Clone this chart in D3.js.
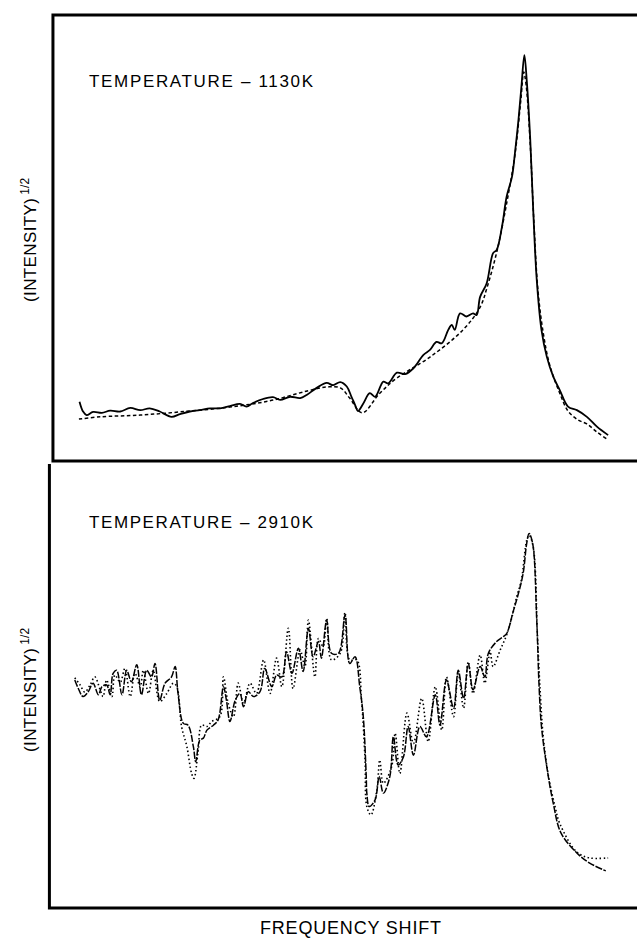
<!DOCTYPE html>
<html><head><meta charset="utf-8">
<script src="https://cdn.jsdelivr.net/npm/d3@7"></script>
<style>html,body{margin:0;padding:0;background:#fff;}svg{display:block;}</style>
</head><body>
<script>
// Frequency shift (arbitrary units 0-100), (intensity)^1/2 (arbitrary units 0-100)
const top_meas_x = [5.0,5.6,6.2,7.3,8.8,10.2,11.9,13.6,15.3,16.9,18.6,20.6,22.0,23.7,25.4,27.1,28.8,30.5,32.2,33.3,34.4,36.1,37.8,39.0,40.7,42.4,43.5,45.2,46.9,48.0,49.2,50.3,51.1,51.7,52.2,53.1,54.2,55.1,56.5,57.3,58.8,60.2,61.6,63.3,64.4,65.5,66.4,67.5,68.1,68.6,69.5,70.6,71.7,72.3,72.9,74.0,75.1,75.7,76.6,77.4,78.3,78.8,79.4,79.9,80.4,80.8,81.4,81.9,82.5,83.3,84.2,85.3,86.4,87.8,89.3,91.0,92.7,94.6];
const top_meas_y = [13.3,11.1,10.3,11.0,10.8,11.3,11.1,11.9,11.4,11.8,11.1,9.9,10.5,11.1,11.4,11.8,11.8,12.3,12.8,12.2,13.0,13.9,14.3,13.7,14.4,14.1,14.8,16.4,17.5,17.0,17.7,16.7,14.4,12.6,11.2,12.9,15.2,14.4,17.8,17.4,19.8,19.5,20.8,23.8,24.9,26.7,26.4,29.4,30.5,29.4,33.1,32.4,33.1,32.7,36.8,39.8,46.6,47.3,52.5,59.3,63.7,69.0,76.5,83.9,91.0,85.4,72.0,56.3,40.6,29.4,23.4,18.9,15.9,12.2,11.4,9.9,7.7,5.8];
const top_fit_x = [4.9,8.5,15.3,22.0,30.5,37.3,43.6,47.0,49.2,50.8,52.9,55.9,58.8,64.4,70.0,72.9,74.1,75.8,77.5,78.8,79.8,80.3,80.7,81.4,82.0,82.7,83.6,84.7,86.4,87.8,89.5,91.0,92.7,94.4];
const top_fit_y = [9.4,9.9,10.3,11.0,12.1,13.5,15.7,16.6,16.4,14.1,10.8,15.2,18.6,23.3,29.4,34.5,39.0,47.3,58.5,68.6,80.9,87.2,84.3,70.9,54.0,38.3,28.7,21.5,15.2,11.2,9.2,8.3,6.5,4.9];

const bot_a_x = [4.2,4.8,5.6,6.5,7.3,8.2,8.8,9.6,10.2,10.7,11.3,12.2,13.0,13.8,14.7,15.5,16.4,17.2,17.8,18.6,19.5,20.6,21.2,21.7,22.6,23.4,24.3,24.7,25.4,26.0,26.6,27.7,28.5,29.4,29.9,30.5,31.4,32.2,32.8,33.6,34.5,35.6,36.4,37.6,38.4,39.3,40.1,41.0,42.1,42.9,43.8,44.6,45.5,46.0,46.9,47.7,48.9,50.0,50.8,51.7,52.5,53.1,53.6,53.7,54.1,55.1,55.8,56.5,57.6,58.2,59.0,59.9,60.7,61.6,62.7,63.8,65.3,66.1,67.2,68.4,69.2,70.1,70.9,71.7,72.9,73.7,74.3,75.7,76.8,77.4,78.5,79.4,80.2,80.8,81.2,81.8,82.5,82.9,83.3,84.2,85.3,86.6,89.3,91.4,94.2];
const bot_a_y = [51.0,49.1,47.3,48.4,50.3,47.7,49.5,49.9,47.7,52.5,53.2,47.7,53.2,50.6,54.4,47.7,53.2,51.7,54.7,46.5,50.3,51.7,54.0,48.0,41.3,40.9,36.1,32.7,37.6,38.0,39.8,40.9,42.1,49.5,46.5,41.7,46.5,48.0,45.0,48.4,47.3,48.4,53.6,49.5,52.1,51.7,57.3,52.5,58.1,52.9,62.6,56.2,59.6,55.9,64.4,57.0,57.0,65.5,54.7,56.2,49.5,42.8,29.4,25.7,22.7,24.2,29.4,25.7,29.4,38.3,32.0,33.8,40.6,34.2,40.6,38.3,47.7,40.9,51.0,44.7,53.2,46.9,54.7,48.8,54.0,51.7,57.0,59.6,60.7,61.4,66.3,70.4,74.9,81.6,83.8,81.6,64.4,49.5,40.6,31.6,23.4,16.8,12.3,10.1,8.3];
const bot_b_x = [4.2,5.1,5.9,6.8,7.6,8.5,9.0,9.6,10.5,11.0,11.9,12.7,13.6,14.4,15.3,15.8,16.7,17.5,18.6,19.8,20.9,21.5,22.3,23.2,24.0,24.4,25.1,25.7,26.6,27.4,28.8,29.4,30.2,31.1,31.9,32.8,33.9,35.0,36.2,37.3,38.4,39.3,40.4,41.2,42.4,43.2,43.8,44.9,45.5,46.3,46.9,47.7,49.2,50.0,50.8,52.0,52.8,53.4,53.7,54.4,55.4,55.9,56.5,57.9,58.5,59.3,60.5,61.6,63.0,64.1,65.3,66.4,67.2,68.4,69.2,70.1,70.9,71.7,72.9,73.7,74.6,75.1,76.3,77.4,78.3,79.1,79.9,80.8,81.2,81.9,82.6,83.1,83.6,84.5,85.6,86.4,89.3,91.5,94.6];
const bot_b_y = [51.5,49.9,48.3,49.9,51.7,48.8,47.3,51.0,47.3,52.1,50.5,53.6,47.3,52.5,49.5,53.2,48.0,53.2,46.2,48.0,50.3,49.5,40.6,36.1,30.1,29.0,35.0,40.9,40.6,41.7,42.8,51.7,45.8,42.8,50.3,45.8,50.3,48.0,55.5,48.0,55.9,49.5,62.6,49.1,57.7,54.0,64.4,51.7,60.3,58.5,64.8,55.5,57.0,66.1,55.5,55.5,46.5,33.1,22.7,20.8,26.4,33.1,27.9,31.6,39.1,30.1,43.6,36.8,46.9,37.2,49.5,39.8,51.7,42.8,52.5,44.7,55.1,48.0,56.6,50.3,57.3,54.0,57.7,61.1,65.1,69.6,73.4,82.3,83.4,80.8,61.4,48.0,38.3,29.4,22.7,18.9,12.5,11.2,11.2];

const topLabel = "TEMPERATURE \u2013 1130K";
const botLabel = "TEMPERATURE \u2013 2910K";
const yLabelMain = "(INTENSITY)";
const yLabelSup = "1/2";
const xLabel = "FREQUENCY SHIFT";

const W = 637, H = 940;
const svg = d3.select("body").append("svg").attr("width", W).attr("height", H);
svg.append("rect").attr("width", W).attr("height", H).attr("fill", "#fff");

const x = d3.scaleLinear().domain([0, 100]).range([50, 640]);
const yTop = d3.scaleLinear().domain([0, 100]).range([461, 15]);
const yBot = d3.scaleLinear().domain([0, 100]).range([908, 461]);

const zip = (xs, ys) => xs.map((v, i) => [v, ys[i]]);
const lineFor = ys => d3.line().x(d => x(d[0])).y(d => ys(d[1])).curve(d3.curveCatmullRom.alpha(0.5));

// frames
const frame = svg.append("g").attr("stroke", "#000").attr("stroke-width", 3).attr("fill", "none");
frame.append("path").attr("d", `M${W+5},${yTop(100)} H${x(0.5)} V${yTop(0)} H${W+5}`);
frame.append("path").attr("d", `M${x(-0.1)},${yTop(0)+3} V${yBot(0)} H${W+5}`);

// top panel curves
svg.append("path").datum(zip(top_fit_x, top_fit_y)).attr("d", lineFor(yTop))
  .attr("fill", "none").attr("stroke", "#000").attr("stroke-width", 1.5).attr("stroke-dasharray", "3.5,2.5");
svg.append("path").datum(zip(top_meas_x, top_meas_y)).attr("d", lineFor(yTop))
  .attr("fill", "none").attr("stroke", "#000").attr("stroke-width", 1.8).attr("stroke-linejoin", "round");

// bottom panel curves
svg.append("path").datum(zip(bot_b_x, bot_b_y)).attr("d", lineFor(yBot))
  .attr("fill", "none").attr("stroke", "#000").attr("stroke-width", 1.6).attr("stroke-dasharray", "1.5,2.5");
svg.append("path").datum(zip(bot_a_x, bot_a_y)).attr("d", lineFor(yBot))
  .attr("fill", "none").attr("stroke", "#000").attr("stroke-width", 1.5).attr("stroke-dasharray", "7,1.5");

// texts
const font = "'Liberation Sans Narrow', 'Liberation Sans', Arial, sans-serif";
svg.append("text").attr("x", 89).attr("y", 87).attr("font-family", font).attr("font-size", 17)
  .attr("textLength", 224).attr("lengthAdjust", "spacing").text(topLabel);
svg.append("text").attr("x", 89).attr("y", 528).attr("font-family", font).attr("font-size", 17)
  .attr("textLength", 224).attr("lengthAdjust", "spacing").text(botLabel);
svg.append("text").attr("x", 260).attr("y", 934).attr("font-family", font).attr("font-size", 18)
  .attr("textLength", 181).attr("lengthAdjust", "spacing").text(xLabel);

function yLab(cy0) {
  const t = svg.append("text").attr("transform", `translate(36,${cy0}) rotate(-90)`)
    .attr("font-family", font).attr("font-size", 17);
  t.append("tspan").attr("textLength", 104).attr("lengthAdjust", "spacing").text(yLabelMain);
  t.append("tspan").attr("dx", 3).attr("dy", -7).attr("font-size", 12).text(yLabelSup);
}
yLab(302);
yLab(752);
</script>
</body></html>
